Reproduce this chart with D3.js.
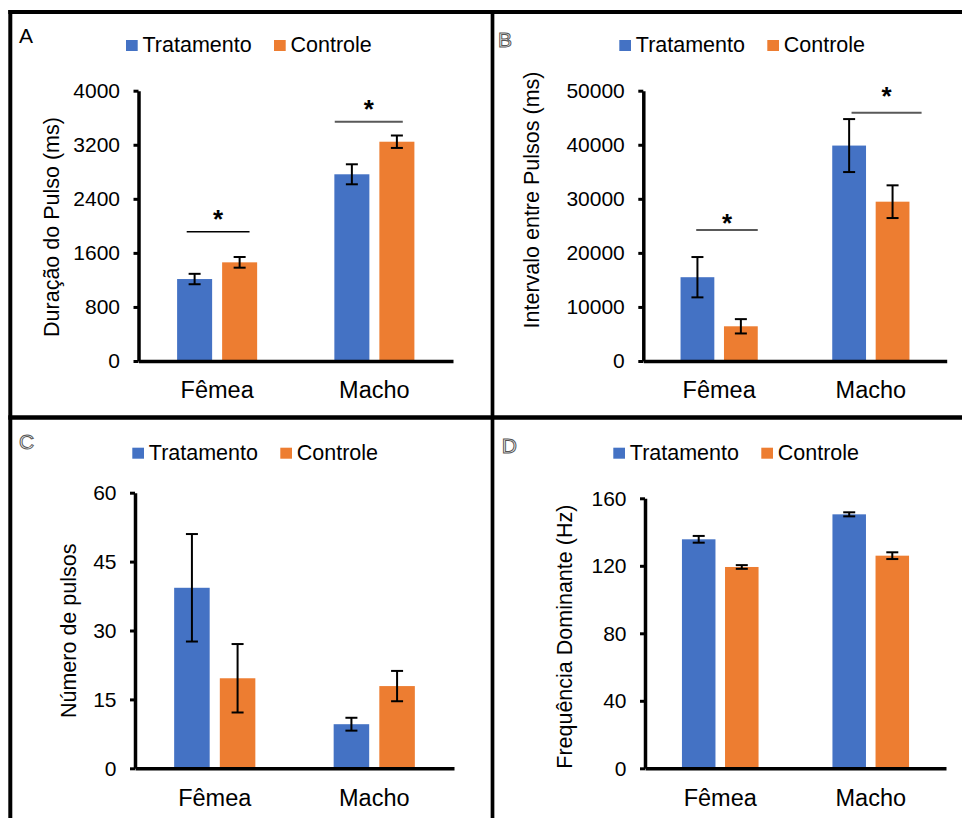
<!DOCTYPE html>
<html lang="pt">
<head>
<meta charset="utf-8">
<script src="https://cdn.jsdelivr.net/npm/d3@7"></script>
<style>
  html, body { margin: 0; padding: 0; background: #fff; }
  svg { display: block; font-family: "Liberation Sans", Arial, sans-serif; }
</style>
</head>
<body>
<svg id="fig" width="962" height="818"></svg>
<script>
// ---- Shared categories and series ----
const categories = ["Fêmea", "Macho"];
const seriesNames = ["Tratamento", "Controle"];
const seriesColors = ["#4472C4", "#ED7D31"];

// ---- A: Duração do Pulso (ms) ----
const durTrat = [1213, 2763];
const durTratErr = [77, 148];
const durCtrl = [1460, 3245];
const durCtrlErr = [79, 92];
const durTicks = [0, 800, 1600, 2400, 3200, 4000];
const durSigLevel = [1913, 3541];

// ---- B: Intervalo entre Pulsos (ms) ----
const intTrat = [15500, 39850];
const intTratErr = [3730, 4900];
const intCtrl = [6420, 29470];
const intCtrlErr = [1325, 3025];
const intTicks = [0, 10000, 20000, 30000, 40000, 50000];
const intSigLevel = [24230, 45930];

// ---- C: Número de pulsos ----
const numTrat = [39.3, 9.6];
const numTratErr = [11.7, 1.4];
const numCtrl = [19.6, 17.9];
const numCtrlErr = [7.45, 3.3];
const numTicks = [0, 15, 30, 45, 60];

// ---- D: Frequência Dominante (Hz) ----
const freqTrat = [135.7, 150.5];
const freqTratErr = [2.0, 1.2];
const freqCtrl = [119.3, 126.0];
const freqCtrlErr = [1.1, 2.0];
const freqTicks = [0, 40, 80, 120, 160];

const svg = d3.select("#fig");

// Panel frame lines
const frame = [
  { x1: 8.3, y1: 12, x2: 962, y2: 12, w: 4 },
  { x1: 10.3, y1: 10, x2: 10.3, y2: 818, w: 4 },
  { x1: 492.5, y1: 10, x2: 492.5, y2: 818, w: 3.7 },
  { x1: 8.3, y1: 417.6, x2: 962, y2: 417.6, w: 4.5 }
];
svg.append("g").selectAll("line").data(frame).join("line")
  .attr("x1", d => d.x1).attr("y1", d => d.y1)
  .attr("x2", d => d.x2).attr("y2", d => d.y2)
  .attr("stroke", "#000").attr("stroke-width", d => d.w);

const panels = [
  {
    letter: "A", letterX: 19, letterY: 43.3, letterOutline: false,
    left: 138.5, right: 453, top: 90.7, bottom: 361,
    legendX: 126, legendY: 40, legendBase: 51.7,
    title: "Duração do Pulso (ms)", titleX: 59, titleY: 227,
    values: [durTrat, durCtrl], errors: [durTratErr, durCtrlErr],
    ticks: durTicks, sig: durSigLevel,
    sigStyle: [
      { from: 0.12, to: 0.905, starGap: 18.4, color: "#000", w: 1.6 },
      { from: 0.005, to: 0.855, starGap: 18.4, color: "#595959", w: 2 }
    ]
  },
  {
    letter: "B", letterX: 498, letterY: 46.7, letterOutline: true,
    left: 643.3, right: 946.7, top: 90.7, bottom: 361,
    legendX: 619.3, legendY: 40, legendBase: 51.7,
    title: "Intervalo entre Pulsos (ms)", titleX: 539, titleY: 200,
    values: [intTrat, intCtrl], errors: [intTratErr, intCtrlErr],
    ticks: intTicks, sig: intSigLevel,
    sigStyle: [
      { from: 0.203, to: 1.0, starGap: 13.3, color: "#595959", w: 2 },
      { from: 0.25, to: 1.157, starGap: 22.7, color: "#595959", w: 2 }
    ]
  },
  {
    letter: "C", letterX: 19, letterY: 449.3, letterOutline: true,
    left: 135, right: 454, top: 492.7, bottom: 768.3,
    legendX: 132.3, legendY: 447.7, legendBase: 460,
    title: "Número de pulsos", titleX: 76, titleY: 630.8,
    values: [numTrat, numCtrl], errors: [numTratErr, numCtrlErr],
    ticks: numTicks, sig: null
  },
  {
    letter: "D", letterX: 501.7, letterY: 452.7, letterOutline: true,
    left: 645, right: 946, top: 498.3, bottom: 768.3,
    legendX: 613.3, legendY: 447.7, legendBase: 460,
    title: "Frequência Dominante (Hz)", titleX: 572, titleY: 636.7,
    values: [freqTrat, freqCtrl], errors: [freqTratErr, freqCtrlErr],
    ticks: freqTicks, sig: null
  }
];

function drawPanel(p) {
  const g = svg.append("g");

  const x0 = d3.scaleBand().domain(categories)
    .range([p.left, p.right]).paddingInner(0.491).paddingOuter(0.2455);
  const x1 = d3.scaleBand().domain(seriesNames)
    .range([0, x0.bandwidth()]).paddingInner(0.222);
  const y = d3.scaleLinear().domain([0, d3.max(p.ticks)]).range([p.bottom, p.top]);

  const rows = categories.map((c, i) => ({
    cat: c,
    items: seriesNames.map((s, j) => ({ s, j, v: p.values[j][i], e: p.errors[j][i] }))
  }));

  // Bars
  const groups = g.append("g").selectAll("g").data(rows).join("g")
    .attr("transform", d => `translate(${x0(d.cat)},0)`);
  groups.selectAll("rect").data(d => d.items).join("rect")
    .attr("x", d => x1(d.s))
    .attr("y", d => y(d.v))
    .attr("width", x1.bandwidth())
    .attr("height", d => y(0) - y(d.v))
    .attr("fill", d => seriesColors[d.j]);

  // Error bars
  const eb = groups.selectAll("g.err").data(d => d.items).join("g").attr("class", "err")
    .attr("stroke", "#000").attr("stroke-width", 2);
  const cx = d => x1(d.s) + x1.bandwidth() / 2;
  eb.append("line").attr("x1", cx).attr("x2", cx)
    .attr("y1", d => y(d.v + d.e)).attr("y2", d => y(d.v - d.e));
  eb.append("line").attr("x1", d => cx(d) - 6).attr("x2", d => cx(d) + 6)
    .attr("y1", d => y(d.v + d.e)).attr("y2", d => y(d.v + d.e));
  eb.append("line").attr("x1", d => cx(d) - 6).attr("x2", d => cx(d) + 6)
    .attr("y1", d => y(d.v - d.e)).attr("y2", d => y(d.v - d.e));

  // Significance brackets
  if (p.sig) {
    const sig = categories.map((c, i) => ({ cat: c, level: p.sig[i], st: p.sigStyle[i] }));
    const sg = g.append("g").selectAll("g").data(sig).join("g");
    const bx = d => x0(d.cat) + d.st.from * x0.bandwidth();
    const ex = d => x0(d.cat) + d.st.to * x0.bandwidth();
    sg.append("line")
      .attr("x1", bx).attr("x2", ex)
      .attr("y1", d => y(d.level)).attr("y2", d => y(d.level))
      .attr("stroke", d => d.st.color).attr("stroke-width", d => d.st.w);
    sg.append("text")
      .attr("x", d => (bx(d) + ex(d)) / 2)
      .attr("y", d => y(d.level) - d.st.starGap + 14.8)
      .attr("text-anchor", "middle")
      .attr("font-size", 26).attr("font-weight", "bold")
      .attr("fill", "#000")
      .text("*");
  }

  // Y axis
  const ya = g.append("g").attr("transform", `translate(${p.left},0)`)
    .call(d3.axisLeft(y).tickValues(p.ticks).tickSize(5).tickSizeOuter(0)
      .tickPadding(13.5).tickFormat(d3.format("d")));
  ya.select(".domain").attr("stroke", "#000").attr("stroke-width", 3.5);
  ya.selectAll(".tick line").attr("stroke", "#000").attr("stroke-width", 3);
  ya.selectAll(".tick text").attr("font-size", 21).attr("fill", "#000")
    .attr("font-family", "Liberation Sans, Arial, sans-serif");

  // X axis
  const xa = g.append("g").attr("transform", `translate(0,${p.bottom})`)
    .call(d3.axisBottom(x0).tickSize(0).tickSizeOuter(0).tickPadding(20.6));
  xa.select(".domain").attr("stroke", "#000").attr("stroke-width", 3.5);
  xa.selectAll(".tick text").attr("font-size", 23.5).attr("fill", "#000")
    .attr("font-family", "Liberation Sans, Arial, sans-serif");

  // Y axis title
  g.append("text")
    .attr("transform", `translate(${p.titleX},${p.titleY}) rotate(-90)`)
    .attr("text-anchor", "middle")
    .attr("font-size", 21.5).attr("fill", "#000")
    .text(p.title);

  // Legend
  const lg = g.append("g").selectAll("g").data(seriesNames).join("g")
    .attr("transform", (d, i) => `translate(${p.legendX + i * 148},0)`);
  lg.append("rect").attr("x", 0).attr("y", p.legendY)
    .attr("width", 11.7).attr("height", 11).attr("fill", (d, i) => seriesColors[i]);
  lg.append("text").attr("x", 16.5).attr("y", p.legendBase)
    .attr("font-size", 21.5).attr("fill", "#000").text(d => d);

  // Panel letter
  const lt = g.append("text").attr("x", p.letterX).attr("y", p.letterY)
    .attr("font-size", 21).text(p.letter);
  if (p.letterOutline) {
    lt.attr("fill", "#fff").attr("stroke", "#555").attr("stroke-width", 1);
  } else {
    lt.attr("fill", "#000");
  }
}

panels.forEach(drawPanel);
</script>
</body>
</html>
